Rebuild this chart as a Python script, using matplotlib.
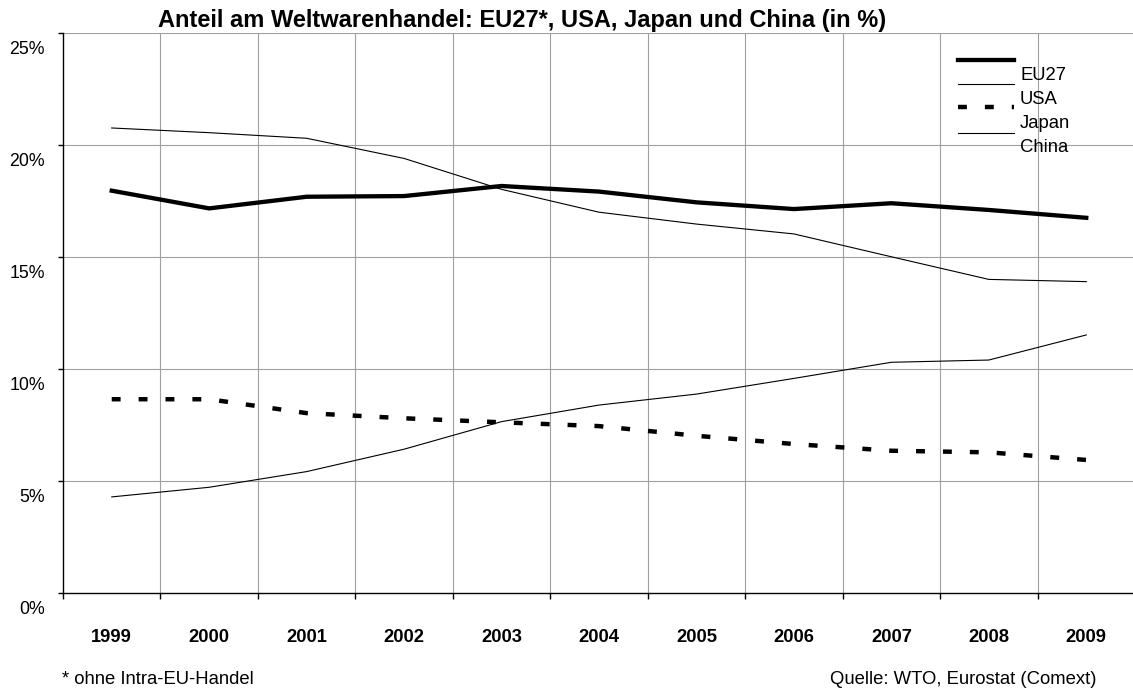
import matplotlib
matplotlib.use("Agg")
import matplotlib.pyplot as plt
from matplotlib.lines import Line2D
from matplotlib.transforms import offset_copy

plt.rcParams['font.family'] = ['Liberation Sans', 'DejaVu Sans']

years = ['1999', '2000', '2001', '2002', '2003', '2004', '2005', '2006', '2007', '2008', '2009']
eu27 = [17.96, 17.17, 17.69, 17.72, 18.17, 17.92, 17.44, 17.14, 17.40, 17.10, 16.75]
usa = [20.76, 20.55, 20.30, 19.40, 18.02, 17.00, 16.47, 16.03, 15.01, 14.00, 13.90]
japan = [8.65, 8.65, 8.03, 7.80, 7.62, 7.45, 7.02, 6.65, 6.35, 6.28, 5.94]
china = [4.29, 4.72, 5.42, 6.42, 7.65, 8.39, 8.88, 9.58, 10.30, 10.40, 11.52]
yticks = [0, 5, 10, 15, 20, 25]
ytick_labels = ['0%', '5%', '10%', '15%', '20%', '25%']
series_names = ['EU27', 'USA', 'Japan', 'China']
title = 'Anteil am Weltwarenhandel: EU27*, USA, Japan und China (in %)'
footnote = '* ohne Intra-EU-Handel'
source = 'Quelle: WTO, Eurostat (Comext)'

W, H = 1133, 695
fig = plt.figure(figsize=(W / 100, H / 100), dpi=100)
fig.patch.set_facecolor('white')

def fx(x):
    return x / W

def fy(y):
    return 1 - y / H

ax = fig.add_axes([fx(63), fy(593), (1135 - 63) / W, 560 / H])
ax.set_xlim(-0.5, len(years) - 0.5)
ax.set_ylim(0, 25)

grid_kw = dict(color='#a0a0a0', lw=0.8, zorder=1)
for v in yticks[1:]:
    ax.axhline(v, **grid_kw)
for k in range(len(years)):
    ax.axvline(k + 0.5, **grid_kw)

x = list(range(len(years)))
ax.plot(x, usa, color='black', lw=0.8, zorder=3)
ax.plot(x, china, color='black', lw=0.8, zorder=3)
ax.plot(x, japan, color='black', lw=3.2, linestyle=(0, (2.0, 4.05)), zorder=3)
ax.plot(x, eu27, color='black', lw=3.1, zorder=4)

for s in ['top', 'right']:
    ax.spines[s].set_visible(False)
for s in ['left', 'bottom']:
    ax.spines[s].set_color('black')
    ax.spines[s].set_linewidth(1.0)
    ax.spines[s].set_zorder(5)

ax.set_xticks([k - 0.5 for k in range(len(years) + 1)])
ax.set_xticklabels([])
ax.tick_params(axis='x', direction='out', length=4.3, width=1.0, color='black')
ax.set_yticks(yticks)
ax.set_yticklabels([])
ax.tick_params(axis='y', direction='out', length=3.6, width=1.0, color='black')

ytr = offset_copy(ax.get_yaxis_transform(), fig=fig, x=-18, y=-17, units='dots')
for v, lab in zip(yticks, ytick_labels):
    ax.text(0, v, lab, transform=ytr, ha='right', va='center', fontsize=12.8, color='black')

xtr = offset_copy(ax.get_xaxis_transform(), fig=fig, x=0, y=-45, units='dots')
for k, lab in enumerate(years):
    ax.text(k, 0, lab, transform=xtr, ha='center', va='center', fontsize=13.2,
            fontweight='bold', color='black')

fig.text(fx(522), fy(20), title, ha='center', va='center', fontsize=17,
         fontweight='bold', color='black')
fig.text(fx(62), fy(680), footnote, ha='left', va='center', fontsize=13.3, color='black')
fig.text(fx(1097), fy(680), source, ha='right', va='center', fontsize=13.3, color='black')

# legend (drawn manually, label offsets as in reference)
leg_line_y = [60, 84, 107, 133]
leg_text_y = [75, 100, 123, 147]
leg_styles = [dict(lw=3.1, linestyle='-'), dict(lw=0.8, linestyle='-'),
              dict(lw=3.2, linestyle=(0, (2.0, 4.05))), dict(lw=0.8, linestyle='-')]
for ly, ty, st, name in zip(leg_line_y, leg_text_y, leg_styles, series_names):
    fig.add_artist(Line2D([fx(958), fx(1014)], [fy(ly), fy(ly)], color='black',
                          transform=fig.transFigure, **st))
    fig.text(fx(1020), fy(ty), name, ha='left', va='center', fontsize=13.3, color='black')

fig.savefig('out.png', dpi=100, facecolor='white')
